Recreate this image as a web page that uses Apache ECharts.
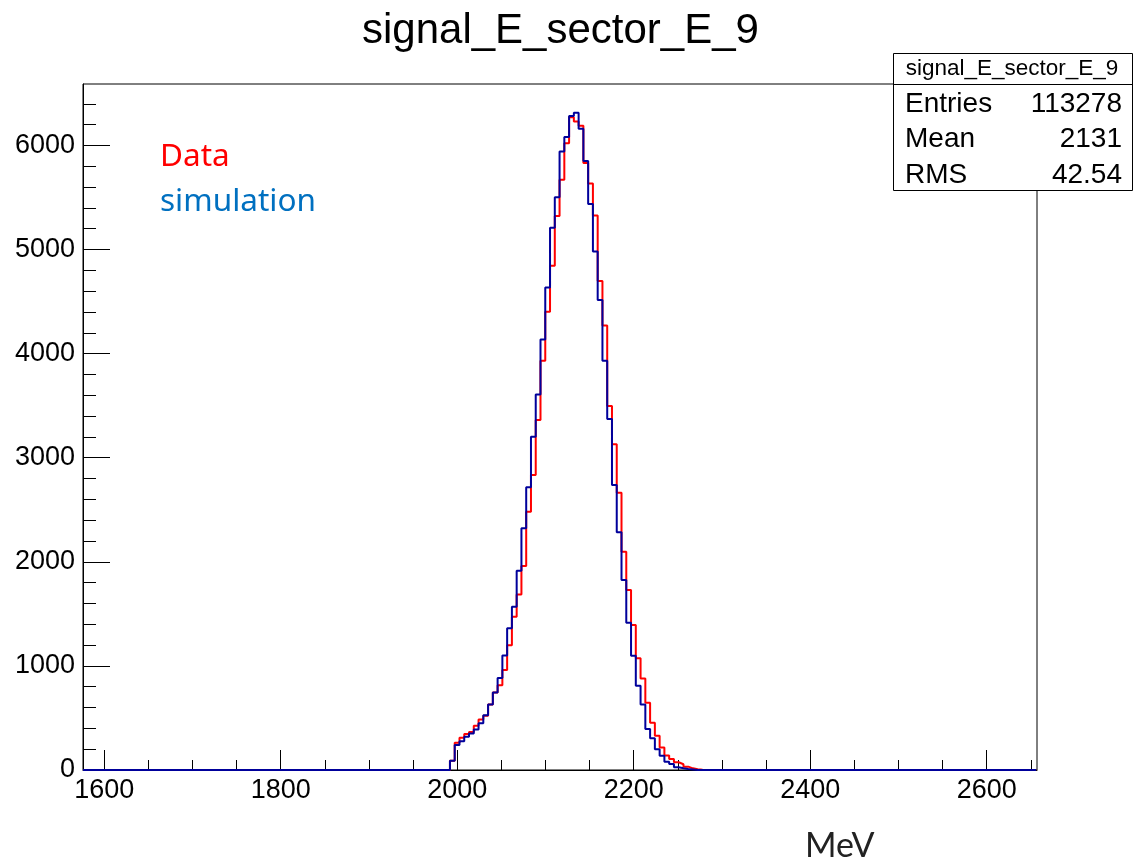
<!DOCTYPE html>
<html>
<head>
<meta charset="utf-8">
<title>signal_E_sector_E_9</title>
<script src="https://cdn.jsdelivr.net/npm/echarts@6/dist/echarts.min.js"></script>
<style>
  html, body { margin: 0; padding: 0; background: #fff; }
  #main { width: 1140px; height: 864px; }
</style>
</head>
<body>
<div id="main"></div>
<script>
// histogram binning (200 bins over the axis range)
var binStart = 1576;
var binWidth = 5.4;
var nBins = 200;
var firstBin = 77; // index of first filled bin

// counts, from bin 77 on
var dataCounts = [90, 262, 310, 345, 365, 425, 485, 520, 630, 745,
  815, 960, 1198, 1473, 1685, 1960, 2482, 2834, 3363, 3932,
  4403, 4845, 5323, 5669, 6021, 6270, 6230, 6190, 5830, 5635,
  5326, 4698, 4269, 3497, 3129, 2664, 2097, 1729, 1393, 1073,
  878, 647, 455, 330, 215, 140, 106, 74, 55, 32, 16, 8, 3];
var simCounts = [90, 240, 275, 320, 350, 390, 450, 525, 630, 745,
  883, 1100, 1361, 1569, 1915, 2322, 2716, 3202, 3607, 4135,
  4634, 5210, 5502, 5941, 6080, 6283, 6315, 6160, 5850, 5437,
  4980, 4516, 3932, 3372, 2738, 2284, 1825, 1415, 1098, 810,
  630, 394, 304, 199, 138, 80, 58, 26, 16, 10, 5];

var xMajorTicks = [1600, 1800, 2000, 2200, 2400, 2600];
var xMinorTicks = [1650, 1700, 1750, 1850, 1900, 1950, 2050, 2100, 2150,
  2250, 2300, 2350, 2450, 2500, 2550, 2650];
var yMajorTicks = [0, 1000, 2000, 3000, 4000, 5000, 6000];
var yMinorTicks = [200, 400, 600, 800, 1200, 1400, 1600, 1800, 2200, 2400, 2600, 2800,
  3200, 3400, 3600, 3800, 4200, 4400, 4600, 4800, 5200, 5400, 5600, 5800, 6200, 6400];

var statTitle = 'signal_E_sector_E_9';
var statLabels = ['Entries', 'Mean', 'RMS'];
var statValues = ['113278', '2131', '42.54'];

var xMin = 1576, xMax = 2657, yMax = 6590;
var font = 'Liberation Sans, Arial, sans-serif';

function histPoints(counts) {
  var pts = [];
  for (var k = 0; k < nBins; k++) {
    var i = k - firstBin;
    var v = (i >= 0 && i < counts.length) ? counts[i] : 0;
    pts.push([binStart + k * binWidth, v]);
  }
  pts.push([binStart + nBins * binWidth, 0]);
  return pts;
}

function plain(v) { return String(v); }

var chart = echarts.init(document.getElementById('main'));

var statRows = [];
var rowY = [104, 139, 175];
statLabels.forEach(function (lab, i) {
  statRows.push({
    type: 'text', z: 101, x: 905, y: rowY[i],
    style: { text: lab, font: '28px ' + font, fill: '#000', verticalAlign: 'middle' }
  });
  statRows.push({
    type: 'text', z: 101, x: 1122, y: rowY[i],
    style: { text: statValues[i], font: '28px ' + font, fill: '#000', align: 'right', verticalAlign: 'middle' }
  });
});

var option = {
  animation: false,
  backgroundColor: '#fff',
  title: {
    text: 'signal_E_sector_E_9',
    left: 357,
    top: 5,
    textStyle: { fontSize: 42, fontWeight: 'normal', fontFamily: font, color: '#000' }
  },
  grid: {
    left: 83, right: 103, top: 84, bottom: 94,
    show: true, borderColor: '#000', borderWidth: 1, backgroundColor: 'transparent'
  },
  xAxis: [{
    type: 'value', min: xMin, max: xMax,
    axisLine: { show: true, onZero: false, lineStyle: { color: '#000', width: 1 } },
    axisTick: { show: true, inside: true, length: 20, customValues: xMajorTicks, lineStyle: { color: '#000', width: 1 } },
    axisLabel: { customValues: xMajorTicks, formatter: plain, fontSize: 27, fontFamily: font, color: '#000', margin: 7 },
    splitLine: { show: false }
  }, {
    type: 'value', min: xMin, max: xMax, position: 'bottom',
    axisLine: { show: false },
    axisTick: { show: true, inside: true, length: 10, customValues: xMinorTicks, lineStyle: { color: '#000', width: 1 } },
    axisLabel: { show: false },
    splitLine: { show: false }
  }],
  yAxis: [{
    type: 'value', min: 0, max: yMax,
    axisLine: { show: true, lineStyle: { color: '#000', width: 1 } },
    axisTick: { show: true, inside: true, length: 27, customValues: yMajorTicks, lineStyle: { color: '#000', width: 1 } },
    axisLabel: { customValues: yMajorTicks, formatter: plain, fontSize: 27, fontFamily: font, color: '#000', margin: 8 },
    splitLine: { show: false }
  }, {
    type: 'value', min: 0, max: yMax, position: 'left',
    axisLine: { show: false },
    axisTick: { show: true, inside: true, length: 13, customValues: yMinorTicks, lineStyle: { color: '#000', width: 1 } },
    axisLabel: { show: false },
    splitLine: { show: false }
  }],
  series: [{
    name: 'Data',
    type: 'line',
    step: 'end',
    symbol: 'none',
    data: histPoints(dataCounts),
    lineStyle: { color: '#ff0000', width: 2 },
    z: 3
  }, {
    name: 'simulation',
    type: 'line',
    step: 'end',
    symbol: 'none',
    data: histPoints(simCounts),
    lineStyle: { color: '#00009b', width: 2 },
    z: 4
  }],
  graphic: [
    { type: 'text', x: 160, y: 157, style: { text: 'Data', font: '31.5px "Noto Sans", sans-serif', fill: '#ff0000', verticalAlign: 'middle' } },
    { type: 'text', x: 160, y: 202, style: { text: 'simulation', font: '31.5px "Noto Sans", sans-serif', fill: '#0070c0', verticalAlign: 'middle' } },
    { type: 'text', x: 805, y: 846, style: { text: 'MeV', font: '34px Lato, sans-serif', fill: '#222', verticalAlign: 'middle' } },
    {
      type: 'rect', z: 100, shape: { x: 893.5, y: 53.5, width: 239, height: 137 },
      style: { fill: '#fff', stroke: '#000', lineWidth: 1 }
    },
    {
      type: 'line', z: 101, shape: { x1: 893.5, y1: 84.5, x2: 1132.5, y2: 84.5 },
      style: { stroke: '#000', lineWidth: 1 }
    },
    {
      type: 'text', z: 101, x: 1012, y: 69,
      style: { text: statTitle, font: '22.5px ' + font, fill: '#000', align: 'center', verticalAlign: 'middle' }
    }
  ].concat(statRows)
};

chart.setOption(option);
window.addEventListener('resize', function () { chart.resize(); });
</script>
</body>
</html>
